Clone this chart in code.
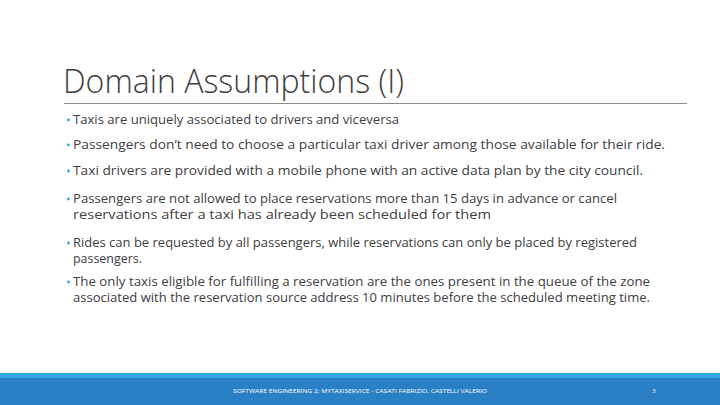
import React from "react";

const title = "Domain Assumptions (I)";
const bullets: string[][] = [
  ["Taxis are uniquely associated to drivers and viceversa"],
  ["Passengers don’t need to choose a particular taxi driver among those available for their ride."],
  ["Taxi drivers are provided with a mobile phone with an active data plan by the city council."],
  [
    "Passengers are not allowed to place reservations more than 15 days in advance or cancel",
    "reservations after a taxi has already been scheduled for them",
  ],
  [
    "Rides can be requested by all passengers, while reservations can only be placed by registered",
    "passengers.",
  ],
  [
    "The only taxis eligible for fulfilling a reservation are the ones present in the queue of the zone",
    "associated with the reservation source address 10 minutes before the scheduled meeting time.",
  ],
];
// approximate right edge of each text line in the reference
const lineEnds: number[][] = [[399], [665], [643], [617, 491], [637, 142], [650, 650]];
const bulletTops = [124, 149, 175, 219, 263];
const footer = "SOFTWARE ENGINEERING 2: MYTAXISERVICE - CASATI FABRIZIO, CASTELLI VALERIO";

export default function App() {
  const textX = 73;
  const lineGap = 16;
  const starts = [124, 149, 175, 203, 247, 286];
  return (
    <svg width={720} height={405} style={{ position: "absolute", left: 0, top: 0 }}>
      <rect width={720} height={405} fill="#fff" />
      <text x={63} y={93} fontFamily="Open Sans" fontWeight={300} fontSize={33} fill="#404040"
        textLength={341} lengthAdjust="spacingAndGlyphs">{title}</text>
      <line x1={64} x2={687} y1={103.5} y2={103.5} stroke="#8c8c8c" strokeWidth={1} />
      {bullets.map((b, i) => (
        <g key={i}>
          <circle cx={68.5} cy={starts[i] - 4} r={1.4} fill="#2fa4dc" />
          {b.map((t, j) => (
            <text key={j} x={textX} y={starts[i] + j * lineGap} fontFamily="Open Sans" fontSize={12.3}
              fill="#404040" textLength={lineEnds[i][j] - textX} lengthAdjust="spacingAndGlyphs">{t}</text>
          ))}
        </g>
      ))}
      <rect x={0} y={373} width={720} height={5} fill="#2eaae1" />
      <rect x={0} y={378} width={720} height={27} fill="#2a80c4" />
      <text x={360} y={393} textAnchor="middle" fontFamily="Open Sans" fontSize={5.3} fill="#fff"
        textLength={254} lengthAdjust="spacingAndGlyphs">{footer}</text>
      <text x={654} y={393} textAnchor="middle" fontFamily="Open Sans" fontSize={6} fill="#fff">3</text>
    </svg>
  );
}
